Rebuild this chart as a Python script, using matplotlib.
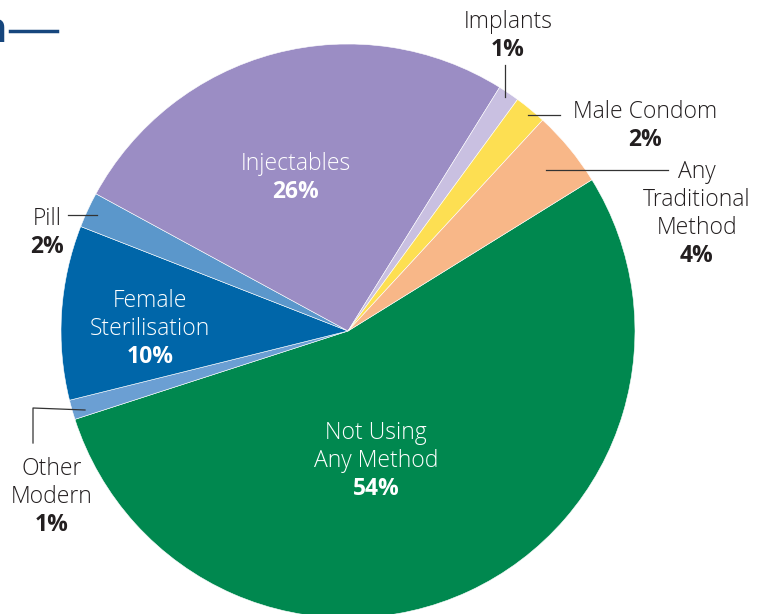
import matplotlib.pyplot as plt

# slice data, clockwise from "Not Using Any Method"
labels = ['Not Using\nAny Method', 'Other\nModern', 'Female\nSterilisation', 'Pill',
          'Injectables', 'Implants', 'Male Condom', 'Any\nTraditional\nMethod']
shares = [53.8, 1.1, 9.8, 2.0, 25.9, 1.2, 1.8, 4.3]
pct_labels = ['54%', '1%', '10%', '2%', '26%', '1%', '2%', '4%']
colors = ['#00884f', '#6b9fd3', '#0066a9', '#5b97cb', '#9b8dc4', '#c9c0e1', '#fddf52', '#f8b788']

W, H = 757, 614
fig = plt.figure(figsize=(W / 100, H / 100), dpi=100)
ax = fig.add_axes([0, 0, 1, 1])

def py(y):
    # pixel row -> data y
    return H - y

cx, cy, r = 348, py(331), 287
ax.pie(shares, colors=colors, startangle=31.8, counterclock=False,
       center=(cx, cy), radius=r, frame=True,
       wedgeprops=dict(edgecolor='white', linewidth=0.4))
ax.set_xlim(0, W)
ax.set_ylim(0, H)
ax.set_aspect('equal')
ax.axis('off')

fam = ['Open Sans', 'DejaVu Sans']
fs = 16.5
lh = 28

def label(x, y, i, color):
    y = y + 2
    lines = labels[i].split('\n')
    for k, t in enumerate(lines):
        ax.text(x, py(y + k * lh), t, ha='center', va='center', fontsize=fs,
                family=fam, weight='light', color=color)
    ax.text(x, py(y + len(lines) * lh), pct_labels[i], ha='center', va='center',
            fontsize=fs, family=fam, weight='bold', color=color)

dark = '#231f20'
label(376, 431, 0, 'white')
label(52, 467, 1, dark)
label(150, 299, 2, 'white')
label(47, 217, 3, dark)
label(296, 162, 4, 'white')
label(508, 20, 5, dark)
label(645, 110, 6, dark)
label(697, 170, 7, dark)

# leader lines
lk = dict(color='#333333', linewidth=0.9)
ax.plot([505, 505], [py(65), py(97)], **lk)
ax.plot([528, 560], [py(115), py(115)], **lk)
ax.plot([546, 668], [py(170), py(170)], **lk)
ax.plot([68, 97], [py(215), py(215)], **lk)
ax.plot([33, 33, 85], [py(443), py(408), py(410)], **lk)

# cropped title fragment
ax.text(7, py(31), 'n', ha='right', va='center', fontsize=30, family=fam,
        weight='bold', color='#16467d')
ax.plot([10, 57], [py(31), py(31)], color='#16467d', linewidth=2.5)

fig.savefig('out.png', dpi=100)
